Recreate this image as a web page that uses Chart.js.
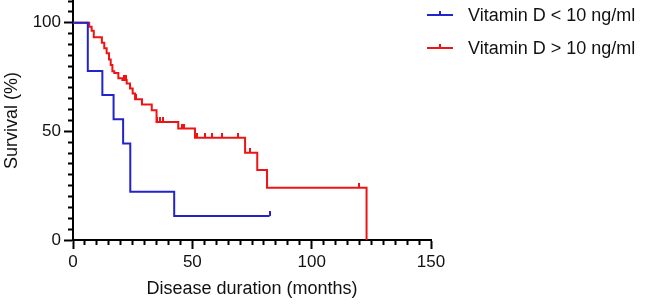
<!DOCTYPE html>
<html><head><meta charset="utf-8">
<script src="https://cdn.jsdelivr.net/npm/chart.js@4/dist/chart.umd.min.js"></script>
<style>html,body{margin:0;padding:0;background:#fff}#wrap{width:646px;height:305px;position:relative}</style>
</head><body><div id="wrap"><canvas id="c"></canvas></div>
<script>
// ---- data ----
const xTitle = 'Disease duration (months)';
const yTitle = 'Survival (%)';
const xTickLabels = [0, 50, 100, 150];
const yTickLabels = [0, 50, 100];

const lowLabel = 'Vitamin D < 10 ng/ml';
const lowTimes = [0, 6.2, 12.3, 17.0, 21.0, 24.0, 42.4, 82.4];
const lowSurv  = [100, 77.8, 66.7, 55.6, 44.4, 22.2, 11.1, 11.1];
const lowCensorTimes = [82.4];
const lowCensorSurv  = [11.1];

const highLabel = 'Vitamin D > 10 ng/ml';
const highTimes = [0, 6.8, 7.8, 8.7, 12.1, 13.1, 14.1, 15.1, 15.8, 16.5, 17.3, 19.0, 20.7, 22.5, 23.9, 25.0, 26.0, 28.9, 33.0, 35.0, 44.1, 51.1, 72.1, 77.2, 81.3, 123.0];
const highSurv  = [100, 98.2, 96.3, 93.3, 90.8, 88.2, 85.9, 83.1, 80.5, 77.7, 76.9, 74.4, 73.6, 72.0, 69.7, 67.4, 64.8, 62.4, 59.7, 54.3, 51.3, 47.1, 40.2, 32.2, 24.1, 0];
const highCensorTimes = [21.2, 22.0, 26.4, 35.4, 36.5, 37.6, 45.7, 46.4, 51.8, 55.3, 58.1, 62.3, 69.3, 74.2, 81.3, 120.0];
const highCensorSurv  = [73.6, 73.6, 64.8, 54.3, 54.3, 54.3, 51.3, 51.3, 47.1, 47.1, 47.1, 47.1, 47.1, 40.2, 24.1, 24.1];

// ---- styles ----
const BLUE = '#2323cc';
const RED = '#ee1414';
const FONT = '"Liberation Sans", Arial, sans-serif';

function pts(xs, ys) { return xs.map((x, i) => ({ x: x, y: ys[i] })); }
function censorMark(color) {
  const c = document.createElement('canvas');
  c.width = 2; c.height = 10;
  const g = c.getContext('2d');
  g.fillStyle = color; g.fillRect(0, 0, 2, 5);
  return c;
}

const legendPlugin = {
  id: 'kmLegend',
  afterDraw(chart) {
    const ctx = chart.ctx;
    const items = chart.data.datasets.filter(d => d.isCurve);
    ctx.save();
    items.forEach((d, i) => {
      const y = 15 + i * 33;
      ctx.strokeStyle = d.borderColor;
      ctx.lineWidth = 2;
      ctx.beginPath(); ctx.moveTo(427, y); ctx.lineTo(453, y); ctx.stroke();
      ctx.beginPath(); ctx.moveTo(440, y); ctx.lineTo(440, y - 4); ctx.stroke();
      ctx.fillStyle = '#111';
      ctx.font = '18px ' + FONT;
      ctx.textBaseline = 'middle';
      ctx.textAlign = 'left';
      ctx.fillText(d.label, 468, y + 1);
    });
    ctx.restore();
  }
};

const majorDash = [];
new Chart(document.getElementById('c'), {
  type: 'line',
  data: {
    datasets: [
      { label: lowLabel + ' censored', data: pts(lowCensorTimes, lowCensorSurv), showLine: false,
        pointStyle: censorMark(BLUE), order: 0 },
      { label: highLabel + ' censored', data: pts(highCensorTimes, highCensorSurv), showLine: false,
        pointStyle: censorMark(RED), order: 0 },
      { label: lowLabel, isCurve: true, data: pts(lowTimes, lowSurv), borderColor: BLUE, borderWidth: 2,
        stepped: true, pointRadius: 0, fill: false, order: 1 },
      { label: highLabel, isCurve: true, data: pts(highTimes, highSurv), borderColor: RED, borderWidth: 2,
        stepped: true, pointRadius: 0, fill: false, order: 2 }
    ]
  },
  options: {
    responsive: true,
    maintainAspectRatio: false,
    animation: false,
    layout: { autoPadding: false, padding: { top: 1, right: 215, left: 0, bottom: 0 } },
    plugins: { legend: { display: false }, tooltip: { enabled: false } },
    scales: {
      x: {
        type: 'linear', position: 'bottom', min: 0, max: 150,
        border: { color: '#000', width: 2 },
        grid: {
          drawOnChartArea: false, tickLength: 9, tickWidth: 2, tickColor: '#000',
          tickBorderDash: c => (xTickLabels.includes(c.tick && c.tick.value) ? majorDash : [4, 100])
        },
        ticks: {
          stepSize: 5, autoSkip: false, maxRotation: 0, maxTicksLimit: 100, padding: 3,
          color: '#111', font: { family: FONT, size: 17 },
          callback: v => (xTickLabels.includes(v) ? String(v) : '')
        },
        title: { display: true, text: xTitle, color: '#111', font: { family: FONT, size: 18 },
          padding: { top: 4, bottom: 5 } },
        afterFit: s => { s.height = 65; s.paddingLeft = 0; }
      },
      y: {
        type: 'linear', min: 0, max: 110,
        border: { color: '#000', width: 2 },
        grid: {
          drawOnChartArea: false, tickLength: 9, tickWidth: 2, tickColor: '#000',
          tickBorderDash: c => (yTickLabels.includes(c.tick && c.tick.value) ? majorDash : [0, 4, 5, 100])
        },
        ticks: {
          stepSize: 5, autoSkip: false, maxTicksLimit: 100, padding: 3,
          color: '#111', font: { family: FONT, size: 17 },
          callback: v => (yTickLabels.includes(v) ? String(v) : '')
        },
        title: { display: true, text: yTitle, color: '#111', font: { family: FONT, size: 18 },
          padding: { top: 1, bottom: 0 } },
        afterFit: s => { s.width = 73; s.paddingTop = 0; s.paddingBottom = 0; }
      }
    }
  },
  plugins: [legendPlugin]
});
</script>
</body></html>
